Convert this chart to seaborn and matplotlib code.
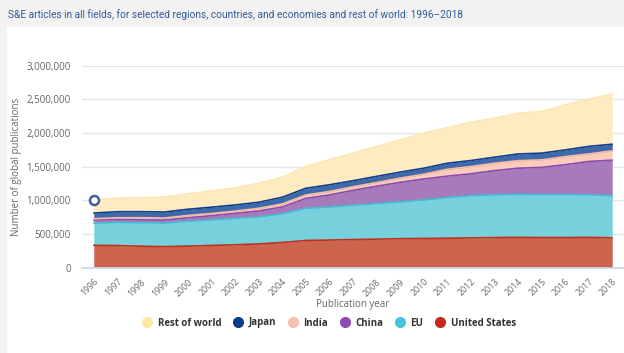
import pandas as pd
import matplotlib.pyplot as plt
import seaborn as sns
from matplotlib.patches import Rectangle
from matplotlib.lines import Line2D

# Dane (tys. publikacji)
years = list(range(1996, 2019))
us = [330, 326, 316, 310, 318, 328, 338, 350, 372, 402, 408, 415, 422, 428, 432, 435, 440, 445, 448, 445, 445, 448, 440]
eu = [330, 345, 350, 350, 370, 380, 392, 402, 428, 478, 492, 510, 528, 548, 572, 605, 628, 635, 640, 638, 638, 633, 628]
china = [45, 42, 42, 45, 52, 62, 75, 88, 100, 148, 178, 222, 258, 290, 312, 318, 325, 360, 388, 405, 445, 495, 528]
india = [20, 26, 32, 30, 34, 32, 33, 40, 45, 50, 52, 53, 55, 62, 70, 102, 108, 110, 112, 112, 120, 112, 138]
japan = [85, 90, 90, 90, 92, 95, 92, 90, 100, 100, 100, 90, 92, 90, 90, 90, 89, 90, 100, 100, 100, 112, 99]
rest = [200, 200, 210, 220, 230, 240, 255, 280, 295, 330, 370, 410, 445, 480, 520, 530, 570, 580, 605, 620, 670, 700, 745]

series = ["United States", "EU", "China", "India", "Japan", "Rest of world"]
values = [us, eu, china, india, japan, rest]
line_colors = ["#C0301E", "#40BFD3", "#8B4AAE", "#F8BBA8", "#0E3E8E", "#FDE7B0"]
fill_colors = ["#CD644E", "#76D1DD", "#A67ABB", "#FBCBBC", "#3F6AAA", "#FEEBC1"]

df = pd.DataFrame({"year": years})
for name, vals in zip(series, values):
    df[name] = [v * 1000 for v in vals]

sns.set_theme(style="white")
plt.rcParams["font.family"] = ["Open Sans", "DejaVu Sans"]

fig = plt.figure(figsize=(6.24, 3.53), dpi=100, facecolor="#F2F2F2")
fig.patches.append(Rectangle((7 / 624, 0), 1, (353 - 27) / 353, transform=fig.transFigure,
                             facecolor="white", edgecolor="none", zorder=-5))
ax = fig.add_axes([82 / 624, 1 - 267.5 / 353, 1 - 82 / 624, (267.5 - 65.7) / 353])
ax.set_zorder(2)
ax.set_facecolor("white")

# Warstwy skumulowane
bottom = pd.Series([0] * len(df))
long_rows = []
for name, fc in zip(series, fill_colors):
    top = bottom + df[name]
    ax.fill_between(df["year"], bottom, top, color=fc, linewidth=0, zorder=2)
    for y, t in zip(df["year"], top):
        long_rows.append({"year": y, "value": t, "series": name})
    bottom = top
long_df = pd.DataFrame(long_rows)
sns.lineplot(data=long_df, x="year", y="value", hue="series", hue_order=series,
             palette=line_colors, linewidth=1.2, legend=False, ax=ax, zorder=3)

# Znacznik dla 1996 (suma)
ax.plot([years[0]], [bottom.iloc[0]], marker="o", markersize=6.5, markerfacecolor="white",
        markeredgecolor="#3B5EA6", markeredgewidth=1.8, zorder=5, clip_on=False)

ax.set_xlim(1995.5, 2018.5)
ax.set_ylim(0, 3000000)
ax.set_yticks(range(0, 3000001, 500000))
ax.set_yticklabels([f"{v:,}" for v in range(0, 3000001, 500000)], fontsize=7, color="#666666")
ax.set_xticks(years)
ax.set_xticklabels([str(y) for y in years], rotation=45, ha="right", rotation_mode="anchor",
                   fontsize=6.3, color="#666666")
ax.grid(axis="y", color="#E6E6E6", linewidth=1, zorder=0)
ax.set_axisbelow(True)
ax.tick_params(axis="x", length=5, color="#CCD6EB", width=0.8, pad=2)
ax.tick_params(axis="y", length=0, pad=8)
for s in ["top", "right", "left"]:
    ax.spines[s].set_visible(False)
ax.spines["bottom"].set_color("#CCD6EB")
ax.set_xlabel("Publication year", fontsize=7, color="#666666", labelpad=1)
ax.set_ylabel("Number of global publications", fontsize=7, color="#666666")
ax.yaxis.set_label_coords((22 - 82) / 542, 0.5)

fig.text(8 / 624, 1 - 15 / 353, "S&E articles in all fields, for selected regions, countries, and economies and rest of world: 1996\u20132018",
         fontsize=7.3, color="#2F5B9E", family=["Roboto", "DejaVu Sans"], va="center", ha="left")

# Legenda
legend_order = ["Rest of world", "Japan", "India", "China", "EU", "United States"]
legend_cols = {"Rest of world": "#FDE7A8", "Japan": "#0B3B8C", "India": "#F8BFAE",
               "China": "#8E4CB0", "EU": "#45C3D8", "United States": "#C42A1C"}
handles = [Line2D([], [], marker="o", linestyle="", markersize=7, markerfacecolor=legend_cols[n],
                  markeredgecolor=legend_cols[n]) for n in legend_order]
leg = fig.legend(handles, legend_order, loc="center", bbox_to_anchor=(329 / 624, 1 - 323 / 353),
                 ncol=6, frameon=False, fontsize=7, handletextpad=0.6, columnspacing=1.2,
                 handlelength=1.0)
for t in leg.get_texts():
    t.set_fontweight("bold")
    t.set_color("#333333")

fig.savefig("out.png", dpi=100, facecolor=fig.get_facecolor())
